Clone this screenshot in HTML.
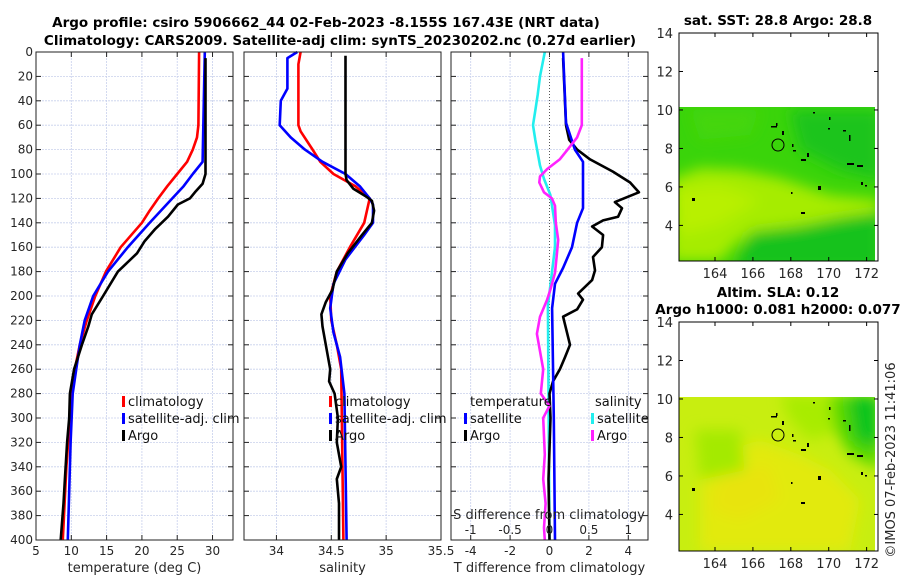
<!DOCTYPE html>
<html><head><meta charset="utf-8"><style>
body{margin:0;background:#fff;width:900px;height:580px;overflow:hidden}
svg{display:block;font-family:"DejaVu Sans","Liberation Sans",sans-serif}
.tk{font-size:12px;fill:#262626}
.tt{font-size:13.5px;font-weight:bold;fill:#000}
.lg{font-size:13px;fill:#111}
</style></head><body>
<svg id="svg" width="900" height="580" viewBox="0 0 900 580">
<defs>
<filter id="bl1" x="-20%" y="-20%" width="140%" height="140%"><feGaussianBlur stdDeviation="7"/></filter>
<clipPath id="c1"><rect x="679" y="107" width="196" height="154"/></clipPath>
<clipPath id="c2"><rect x="679" y="397" width="196" height="154"/></clipPath>
<g id="islands" fill="#000">
<rect x="771" y="126" width="6" height="1.5"/><rect x="776" y="123" width="1.5" height="3"/>
<rect x="782" y="131" width="2" height="4"/><rect x="792" y="144" width="1.5" height="3"/>
<rect x="793" y="150" width="3" height="1.5"/><rect x="801" y="159" width="5" height="2"/>
<rect x="807" y="153" width="2" height="4"/><rect x="813" y="112" width="2" height="1.5"/>
<rect x="829" y="117" width="1.5" height="3"/><rect x="828" y="128" width="2" height="1.5"/>
<rect x="843" y="130" width="3" height="1.5"/><rect x="849" y="135" width="1.5" height="6"/>
<rect x="847" y="163" width="7" height="2"/><rect x="857" y="165" width="6" height="2"/>
<rect x="861" y="182" width="2" height="3"/><rect x="865" y="185" width="2" height="1.5"/>
<rect x="818" y="186" width="3" height="4"/><rect x="801" y="212" width="4" height="2"/>
<rect x="692" y="198" width="3" height="3"/><rect x="791" y="192" width="1.5" height="2"/>
<circle cx="778" cy="145" r="6" fill="none" stroke="#000"/>
</g>
</defs>
<g>
<text class="tt" x="326" y="27" text-anchor="middle">Argo profile: csiro 5906662_44 02-Feb-2023 -8.155S 167.43E (NRT data)</text>
<text class="tt" x="340" y="45" text-anchor="middle">Climatology: CARS2009. Satellite-adj clim: synTS_20230202.nc (0.27d earlier)</text>
</g>
<g id="plots"></g>
<g>
<text class="tt" x="778" y="25" text-anchor="middle">sat. SST: 28.8 Argo: 28.8</text>
<g clip-path="url(#c1)">
<rect x="679" y="107" width="196" height="154" fill="#3ad40a"/>
<g filter="url(#bl1)">
<polygon points="670,180 700,168 740,170 780,178 830,195 880,200 880,220 840,225 800,232 770,236 740,240 720,262 670,262" fill="#a6ec00"/>
<polygon points="675,190 720,185 760,200 720,225 680,235" fill="#b8f000"/>
<polygon points="738,262 750,232 800,226 840,218 880,212 880,270 738,270" fill="#14c21a"/>
<polygon points="790,110 880,110 880,180 840,170 800,150" fill="#1fc41a"/>
<polygon points="690,110 760,110 750,135 700,140" fill="#44d608"/>
</g>
</g>
<rect x="679" y="33" width="199" height="228" fill="none" stroke="#000" stroke-width="1"/>
<use href="#islands"/>
<g id="m1ticks"></g>
</g>
<g>
<text class="tt" x="778" y="297" text-anchor="middle">Altim. SLA: 0.12</text>
<text class="tt" x="778" y="314" text-anchor="middle">Argo h1000: 0.081 h2000: 0.077</text>
<g clip-path="url(#c2)">
<rect x="679" y="397" width="196" height="154" fill="#c8ee10"/>
<g filter="url(#bl1)">
<polygon points="700,460 760,440 800,455 830,470 860,500 850,551 700,551" fill="#e2ea10"/>
<polygon points="720,470 770,465 780,500 740,520 710,510" fill="#e8e40c"/>
<polygon points="780,395 830,395 840,430 810,440 790,420" fill="#a8ec00"/>
<polygon points="695,430 740,430 745,470 700,480" fill="#a4ea00"/>
<polygon points="830,395 880,395 880,470 850,455 835,430" fill="#55d800"/>
<polygon points="848,395 880,395 880,450 855,440" fill="#10c41a"/>
</g>
</g>
<rect x="679" y="322" width="199" height="229" fill="none" stroke="#000" stroke-width="1"/>
<use href="#islands" transform="translate(0,290)"/>
<g id="m2ticks"></g>
</g>
<text x="0" y="0" transform="translate(895,460) rotate(-90)" text-anchor="middle" class="tk" style="font-size:13px">©IMOS 07-Feb-2023 11:41:06</text>
</svg>
<script>
const NS="http://www.w3.org/2000/svg";
const depthTicks=[0,20,40,60,80,100,120,140,160,180,200,220,240,260,280,300,320,340,360,380,400];
const tempTicks=[5,10,15,20,25,30];
const climTDepth=[0,60,70,80,90,100,110,120,130,140,160,180,200,220,240,260,280,300,340,400];
const climT=[28.1,28.0,27.8,27.2,26.4,25.0,23.6,22.3,21.1,20.0,17.0,14.9,13.4,12.2,11.2,10.5,10.1,9.8,9.3,8.8];
const satTDepth=[0,90,100,110,120,140,160,180,200,220,240,280,320,400];
const satT=[28.9,28.6,27.2,25.9,24.3,21.1,18.0,15.2,13.1,11.9,11.2,10.2,9.9,9.5];
const argoTDepth=[5,100,108,115,120,125,135,145,155,165,180,200,215,225,240,260,280,300,320,350,370,400];
const argoT=[29.0,29.0,28.6,27.5,26.8,25.1,23.7,21.9,20.4,19.3,16.6,14.5,12.9,12.4,11.5,10.4,9.8,9.7,9.4,9.1,8.9,8.5];
const salTicks=[34,34.5,35,35.5];
const climSDepth=[0,10,60,65,80,90,100,110,120,140,160,180,200,220,240,260,400];
const climS=[34.22,34.20,34.20,34.22,34.33,34.40,34.52,34.72,34.85,34.80,34.67,34.55,34.49,34.50,34.55,34.59,34.61];
const satSDepth=[0,5,30,40,60,70,80,90,100,110,120,125,140,150,170,190,210,230,250,280,400];
const satS=[34.19,34.10,34.10,34.04,34.03,34.13,34.26,34.42,34.63,34.76,34.85,34.88,34.88,34.80,34.63,34.52,34.49,34.52,34.58,34.62,34.64];
const argoSDepth=[3,100,105,112,118,122,130,140,150,165,180,195,205,215,225,240,260,270,280,300,320,340,350,370,400];
const argoS=[34.63,34.63,34.64,34.70,34.81,34.87,34.89,34.87,34.78,34.65,34.55,34.51,34.45,34.41,34.42,34.45,34.49,34.48,34.53,34.56,34.55,34.59,34.55,34.57,34.57];
const tDiffTicks=[-4,-2,0,2,4];
const sDiffTicks=[-1,-0.5,0,0.5,1];
const satTdDepth=[0,58,80,90,128,140,160,177,190,210,300,400];
const satTd=[0.69,0.84,1.29,1.70,1.70,1.40,1.14,0.69,0.28,0.13,0.22,0.28];
const argoTdDepth=[5,60,72,80,88,98,107,115,119,123,128,135,138,143,150,160,168,179,187,198,203,211,217,230,240,250,260,270,280,300,350,400];
const argoTd=[0.69,0.84,1.0,1.40,2.06,3.22,4.09,4.54,3.93,3.32,3.68,3.48,2.72,2.16,2.72,2.66,2.21,2.31,2.16,1.45,1.70,1.40,0.69,0.89,1.04,0.79,0.53,0.18,0.0,0.05,-0.05,0.0];
const satSdDepth=[0,20,35,48,60,72,93,104,117,142,160,181,208,300,400];
const satSd=[-0.06,-0.12,-0.15,-0.18,-0.21,-0.18,-0.12,-0.07,0.01,0.07,0.07,0.03,-0.02,-0.01,0.0];
const argoSdDepth=[5,60,70,80,88,96,102,107,115,120,126,140,154,168,181,195,203,217,231,260,280,290,300,330,350,370,390,400];
const argoSd=[0.41,0.41,0.35,0.23,0.13,-0.03,-0.12,-0.13,-0.07,0.03,0.07,0.08,0.11,0.09,0.07,0.01,-0.03,-0.12,-0.16,-0.08,-0.11,0.0,-0.08,-0.06,-0.08,-0.05,-0.07,-0.06];
const latTicks=[4,6,8,10,12,14];
const lonTicks=[164,166,168,170,172];

const Y0=52,Y1=540;
const yD=d=>Y0+d*(Y1-Y0)/400;
function mk(p,tag,a){const e=document.createElementNS(NS,tag);for(const k in a)e.setAttribute(k,a[k]);p.appendChild(e);return e;}
const root=document.getElementById('plots');
const panels=[
 {name:'temperature-panel',x0:36,x1:233,lo:5,hi:32.9,ticks:tempTicks,label:'temperature (deg C)',depthLabels:true},
 {name:'salinity-panel',x0:244,x1:441,lo:33.7045,hi:35.5,ticks:salTicks,label:'salinity'},
 {name:'difference-panel',x0:451,x1:648,lo:-5,hi:5,ticks:tDiffTicks,label:'T difference from climatology'}
];
panels.forEach(P=>{
 P.xs=v=>P.x0+(v-P.lo)*(P.x1-P.x0)/(P.hi-P.lo);
 const g=mk(root,'g',{});
 
 
 P.g=g;
 depthTicks.forEach(d=>{const l=mk(g,'line',{x1:P.x0,x2:P.x1,y1:yD(d),y2:yD(d),stroke:'#c8d0ec','stroke-width':0.8,'stroke-dasharray':'2,1'});
  
  mk(g,'line',{x1:P.x0,x2:P.x0+5,y1:yD(d),y2:yD(d),stroke:'#222'});mk(g,'line',{x1:P.x1-5,x2:P.x1,y1:yD(d),y2:yD(d),stroke:'#222'});
  if(P.depthLabels){const t=mk(g,'text',{x:P.x0-3,y:yD(d)+4,'text-anchor':'end',class:'tk'});t.textContent=d;
   }
 });
 P.ticks.forEach(v=>{const x=P.xs(v);
  if(v!==0||P.name!=='difference-panel')mk(g,'line',{x1:x,x2:x,y1:Y0,y2:Y1,stroke:'#c8d0ec','stroke-width':0.8,'stroke-dasharray':'2,1'});
  mk(g,'line',{x1:x,x2:x,y1:Y1,y2:Y1-5,stroke:'#222'});mk(g,'line',{x1:x,x2:x,y1:Y0,y2:Y0+5,stroke:'#222'});
  const t=mk(g,'text',{x:x,y:Y1+15,'text-anchor':'middle',class:'tk'});t.textContent=v;
  
 });
 const xl=mk(g,'text',{x:(P.x0+P.x1)/2,y:572,'text-anchor':'middle',class:'tk',style:'font-size:13px'});xl.textContent=P.label;
 
});
function series(P,ds,vs,color,name,scale){
 const xs=scale||P.xs;
 const pts=ds.map((d,i)=>xs(vs[i]).toFixed(1)+','+yD(d).toFixed(1)).join(' ');
 const pl=mk(P.g,'polyline',{points:pts,fill:'none',stroke:color,'stroke-width':2.6,'stroke-linejoin':'round'});
 
 
}
const [PT,PS,PD]=panels;
mk(PD.g,'line',{x1:PD.xs(0),x2:PD.xs(0),y1:Y0,y2:Y1,stroke:'#555','stroke-width':1,'stroke-dasharray':'1,2'});
const sScale=v=>PD.xs(v*4);
series(PT,climTDepth,climT,'#ff0000','climatology-temperature-line');
series(PT,satTDepth,satT,'#0000ff','satellite-temperature-line');
series(PT,argoTDepth,argoT,'#000000','argo-temperature-line');
series(PS,climSDepth,climS,'#ff0000','climatology-salinity-line');
series(PS,satSDepth,satS,'#0000ff','satellite-salinity-line');
series(PS,argoSDepth,argoS,'#000000','argo-salinity-line');
series(PD,satSdDepth,satSd,'#22eeee','satellite-s-diff-line',sScale);
series(PD,argoTdDepth,argoTd,'#000000','argo-t-diff-line');
series(PD,satTdDepth,satTd,'#0000ff','satellite-t-diff-line');
series(PD,argoSdDepth,argoSd,'#ff22ff','argo-s-diff-line',sScale);
sDiffTicks.forEach(v=>{const t=mk(PD.g,'text',{x:sScale(v),y:534,'text-anchor':'middle',class:'tk'});t.textContent=v;
 });
const st=mk(PD.g,'text',{x:549,y:519,'text-anchor':'middle',class:'tk',style:'font-size:13px'});st.textContent='S difference from climatology';

panels.forEach(P=>mk(P.g,'rect',{x:P.x0,y:Y0,width:P.x1-P.x0,height:Y1-Y0,fill:'none',stroke:'#222','stroke-width':1}));
function legend(x,y,color,label){const g=mk(root,'g',{});
 
 if(color)mk(g,'rect',{x:x,y:y-10,width:3,height:11,fill:color});
 const t=mk(g,'text',{x:x+(color?6:0),y:y,class:'lg'});t.textContent=label;}
legend(122,406,'#ff0000','climatology');legend(122,423,'#0000ff','satellite-adj. clim');legend(122,440,'#000','Argo');
legend(329,406,'#ff0000','climatology');legend(329,423,'#0000ff','satellite-adj. clim');legend(329,440,'#000','Argo');
legend(470,406,null,'temperature');legend(464,423,'#0000ff','satellite');legend(464,440,'#000','Argo');
legend(595,406,null,'salinity');legend(591,423,'#22eeee','satellite');legend(591,440,'#ff22ff','Argo');
function mapTicks(id,top,bot,latTop,latBot){const g=document.getElementById(id);
 const yl=l=>top+(latTop-l)*(bot-top)/(latTop-latBot);
 const xl=l=>679+(l-162.1)*(878-679)/(172.6-162.1);
 latTicks.forEach(l=>{const y=yl(l);mk(g,'line',{x1:679,x2:683,y1:y,y2:y,stroke:'#000'});mk(g,'line',{x1:874,x2:878,y1:y,y2:y,stroke:'#000'});
  const t=mk(g,'text',{x:673,y:y+5,'text-anchor':'end',class:'tk',style:'font-size:13px'});t.textContent=l;
  });
 lonTicks.forEach(l=>{const x=xl(l);mk(g,'line',{x1:x,x2:x,y1:bot,y2:bot-4,stroke:'#000'});mk(g,'line',{x1:x,x2:x,y1:top,y2:top+4,stroke:'#000'});
  const t=mk(g,'text',{x:x,y:bot+17,'text-anchor':'middle',class:'tk',style:'font-size:13px'});t.textContent=l;
  });
}
mapTicks('m1ticks',33,261,14,2.15);
mapTicks('m2ticks',322,551,14,2.1);
</script>
</body></html>
